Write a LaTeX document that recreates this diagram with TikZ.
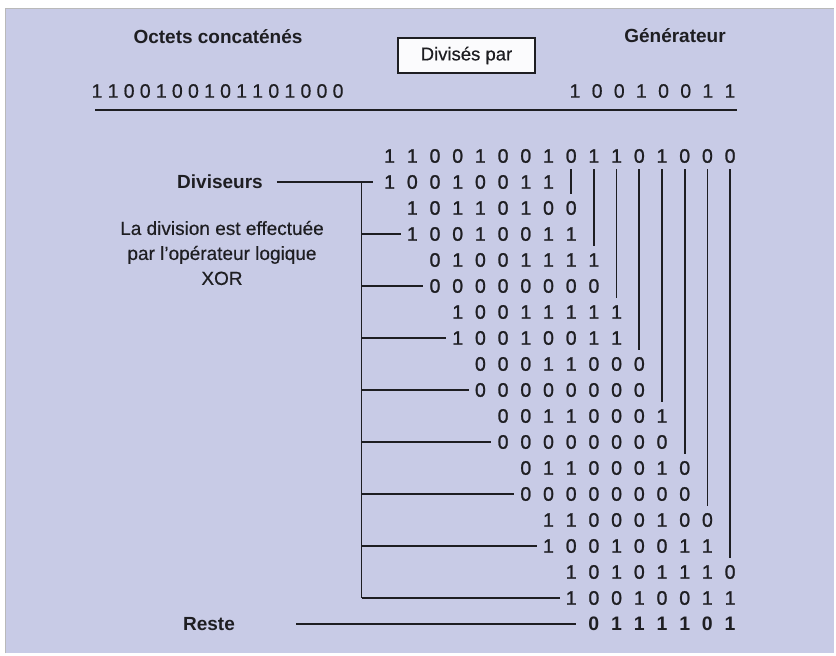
\documentclass[tikz,border=0pt]{standalone}
\usepackage{fontspec}
\setmainfont{Liberation Sans}
\newfontfamily\digfont[FakeBold=1.2]{Liberation Sans}
\newfontfamily\txtfont[FakeBold=0.4]{Liberation Sans}
\definecolor{bg}{RGB}{200,203,230}
\definecolor{ink}{RGB}{30,30,34}
\newcommand\digrow[4][]{%
  \foreach \d [count=\j from #3] in {#4}
    \node[dig,#1] (d-#2-\j) at ({389.6+22.7*\j},{156+26*#2}) {\d};}
\begin{document}
\begin{tikzpicture}[x=1pt,y=-1pt,
  lbl/.style={font=\fontsize{19}{23}\selectfont\bfseries, inner sep=0pt, text=ink},
  txt/.style={font=\txtfont\fontsize{19}{25}\selectfont, inner sep=0pt, align=center, text=ink},
  dig/.style={font=\digfont\fontsize{19.5}{20}\selectfont, inner sep=0pt, text=ink},
  hdig/.style={font=\txtfont\fontsize{19.5}{20}\selectfont, inner sep=0pt, text=ink},
  ln/.style={line width=1.7pt, draw=ink},
  boxed/.style={draw=ink, line width=1.3pt, fill=white!92!bg, minimum width=137pt,
    minimum height=35pt, inner sep=0pt, font=\txtfont\fontsize{18.5}{22}\selectfont, text=ink}]
\useasboundingbox (0,0) rectangle (836,656);
\fill[white] (0,0) rectangle (836,656);
\fill[bg] (5,8) rectangle (834,653);
\draw[gray!55, line width=0.8pt] (5,653) -- (5,8) -- (834,8);
% header
\node[lbl] (oct) at (218,37) {Octets concaténés};
\node[lbl] (gen) at (675,36) {Générateur};
\node[boxed] (divp) at (466.5,55.5) {Divisés par};
\foreach \d [count=\i from 0] in {1,1,0,0,1,0,0,1,0,1,1,0,1,0,0,0}
  \node[hdig] (h-\i) at ({97+16.07*\i},91) {\d};
\foreach \d [count=\i from 0] in {1,0,0,1,0,0,1,1}
  \node[hdig] (g-\i) at ({575+22.14*\i},91) {\d};
\coordinate (rulea) at (95,110);
\coordinate (ruleb) at (737,110);
\draw[line width=1.8pt, draw=ink] (rulea) -- (ruleb);
% division rows
\digrow{0}{0}{1,1,0,0,1,0,0,1,0,1,1,0,1,0,0,0}
\digrow{1}{0}{1,0,0,1,0,0,1,1}
\digrow{2}{1}{1,0,1,1,0,1,0,0}
\digrow{3}{1}{1,0,0,1,0,0,1,1}
\digrow{4}{2}{0,1,0,0,1,1,1,1}
\digrow{5}{2}{0,0,0,0,0,0,0,0}
\digrow{6}{3}{1,0,0,1,1,1,1,1}
\digrow{7}{3}{1,0,0,1,0,0,1,1}
\digrow{8}{4}{0,0,0,1,1,0,0,0}
\digrow{9}{4}{0,0,0,0,0,0,0,0}
\digrow{10}{5}{0,0,1,1,0,0,0,1}
\digrow{11}{5}{0,0,0,0,0,0,0,0}
\digrow{12}{6}{0,1,1,0,0,0,1,0}
\digrow{13}{6}{0,0,0,0,0,0,0,0}
\digrow{14}{7}{1,1,0,0,0,1,0,0}
\digrow{15}{7}{1,0,0,1,0,0,1,1}
\digrow{16}{8}{1,0,1,0,1,1,1,0}
\digrow{17}{8}{1,0,0,1,0,0,1,1}
\digrow[font=\fontsize{19.5}{20}\selectfont\bfseries]{18}{9}{0,1,1,1,1,0,1}
% bring-down lines
\foreach \c in {8,...,15}{
  \pgfmathtruncatemacro\k{2*\c-14}
  \draw[ln, shorten <=13pt, shorten >=14pt] (d-0-\c.center) -- (d-\k-\c.center);
}
% labels
\node[lbl] (divl) at (220,182) {Diviseurs};
\node[txt] (xor) at (222,253) {La division est effectuée\\par l’opérateur logique\\XOR};
\node[lbl] (reste) at (209,624) {Reste};
% bracket
\coordinate (brtop) at (361.5,182);
\coordinate (brbot) at (361.5,598);
\draw[ln, shorten <=14pt, shorten >=11pt] (divl.east) -- (d-1-0.west);
\draw[ln] (brtop) -- (brbot);
\foreach \k/\m in {3/1,5/2,7/3,9/4,11/5,13/6,15/7,17/8}
  \draw[ln, shorten >=6pt] (brtop |- d-\k-\m) -- (d-\k-\m.west);
\coordinate (rs) at (296,624);
\draw[ln, shorten >=12pt] (rs) -- (d-18-9.west);
\end{tikzpicture}
\end{document}
